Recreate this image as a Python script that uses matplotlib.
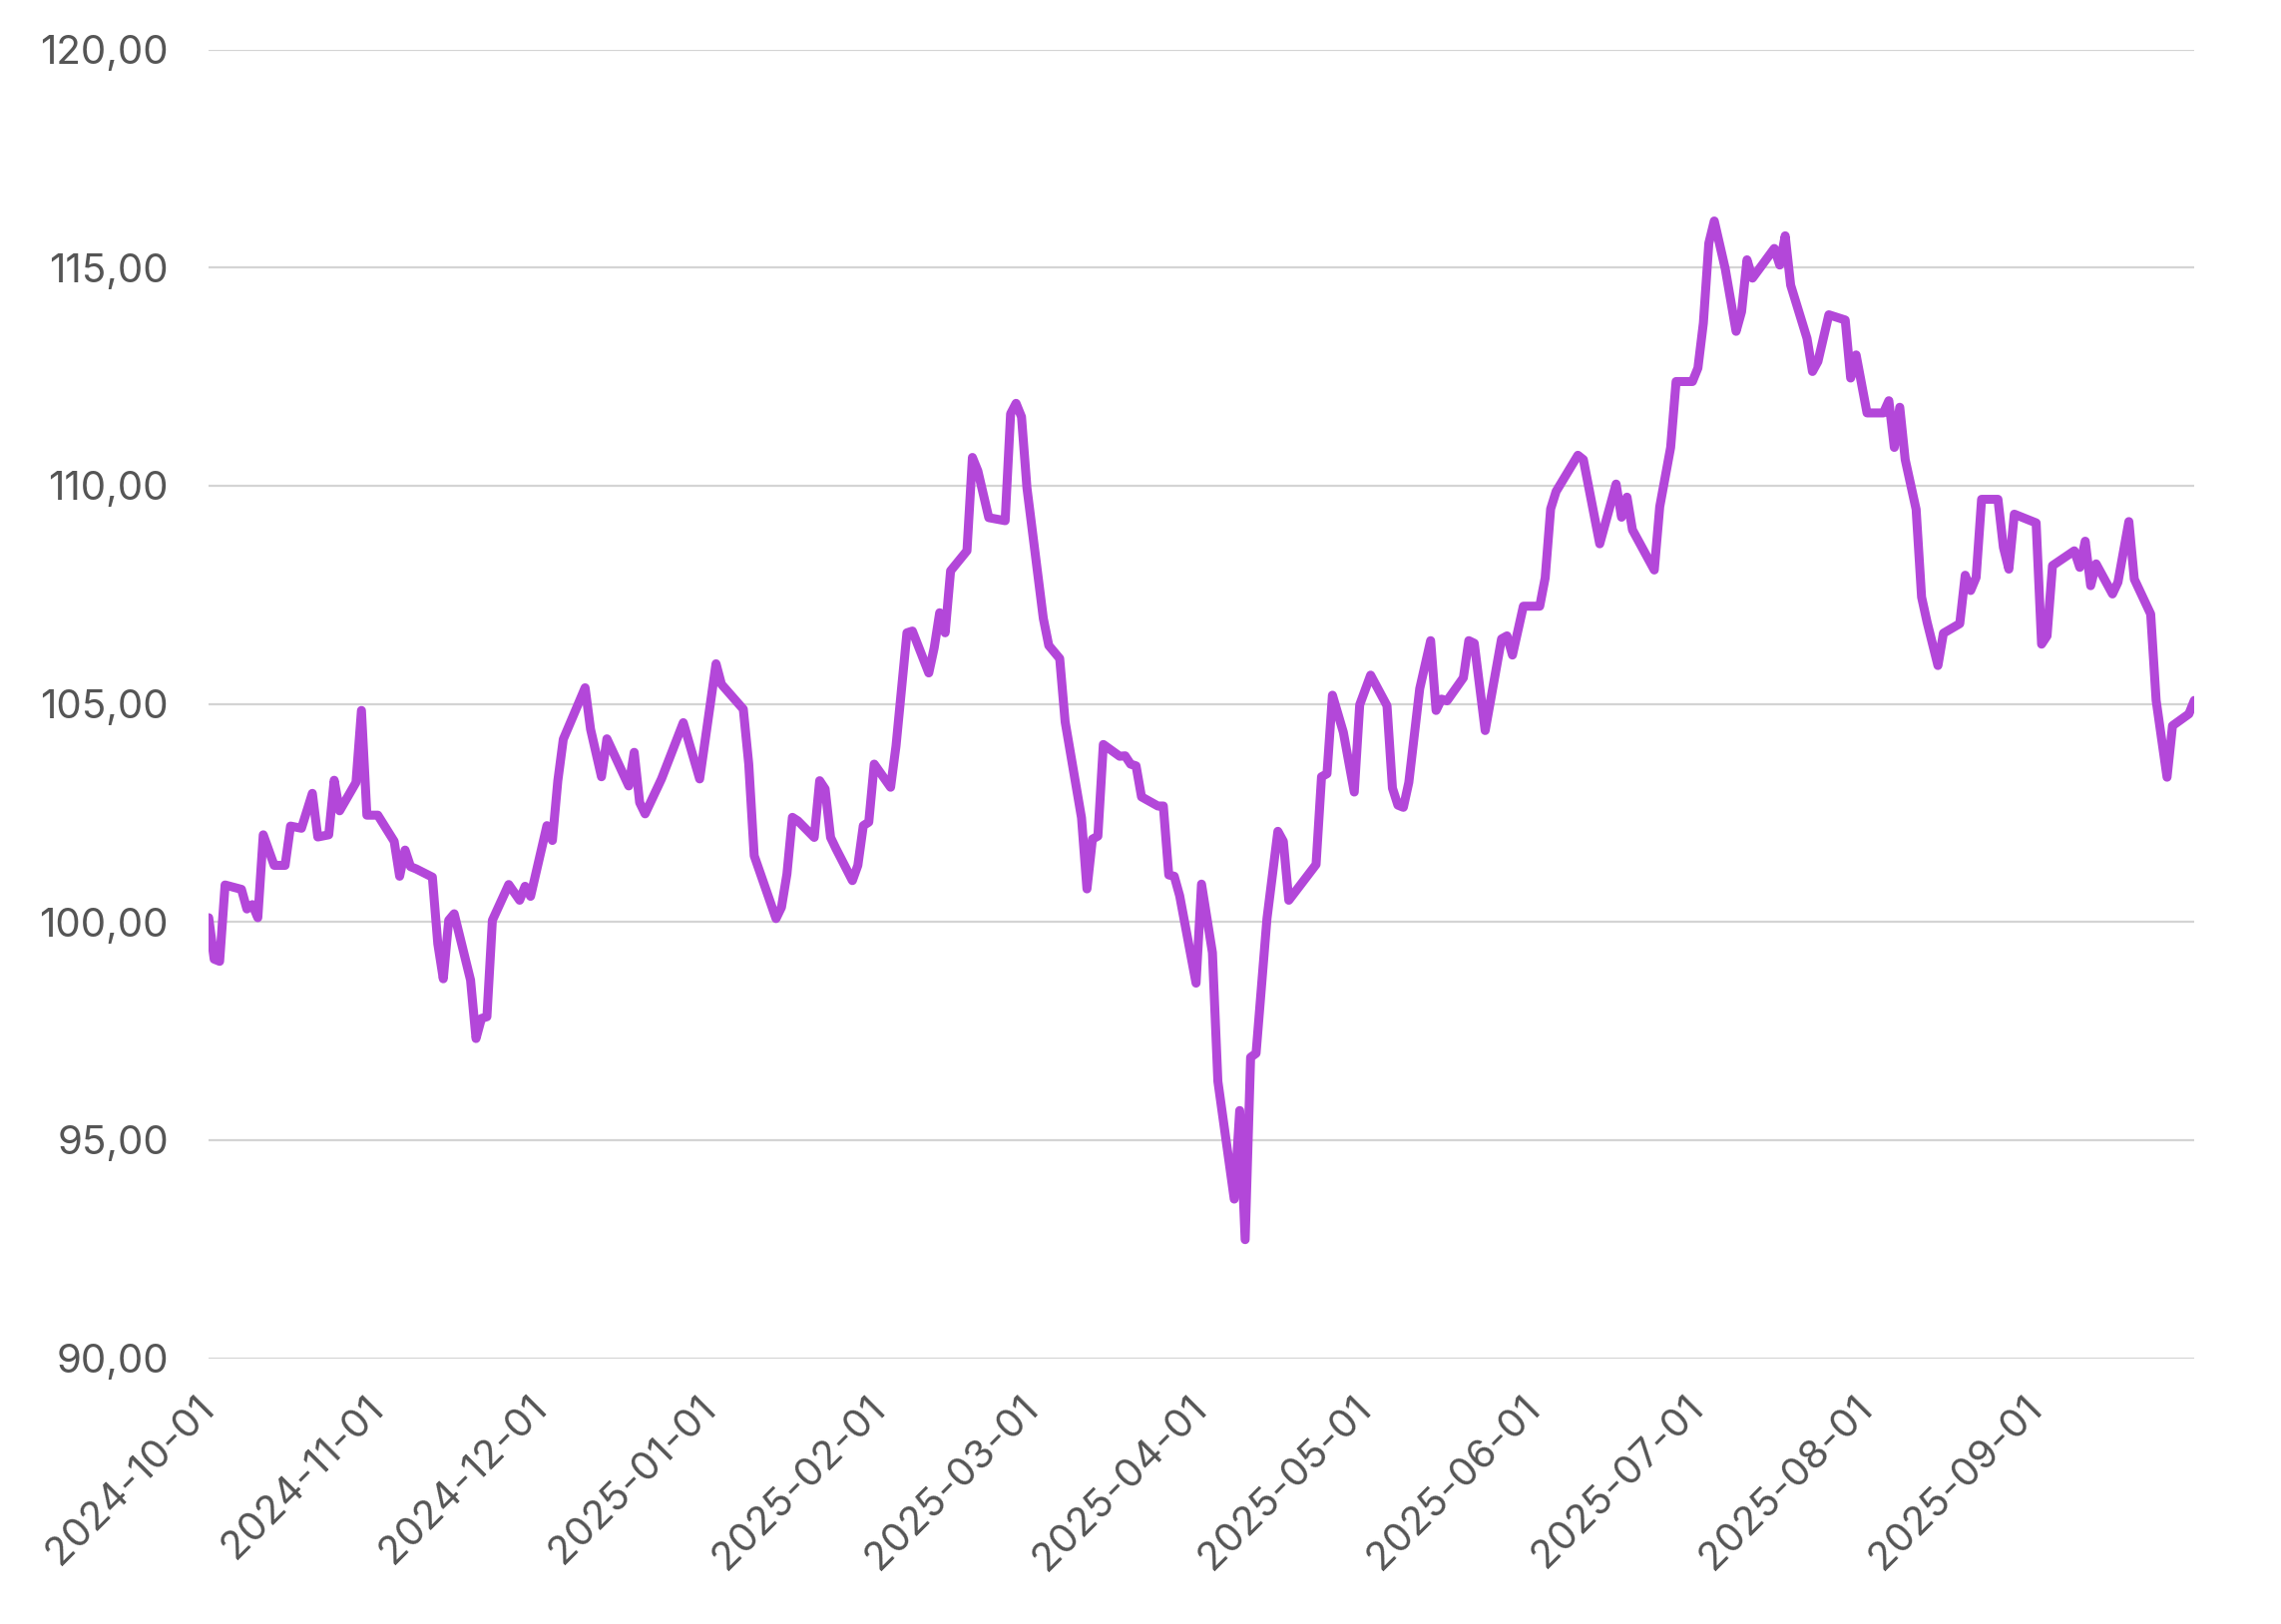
import matplotlib
matplotlib.use("Agg")
import matplotlib.pyplot as plt
import matplotlib.dates as mdates
from matplotlib.ticker import FuncFormatter
import pandas as pd

dates = [
    "2024-10-01", "2024-10-02", "2024-10-03", "2024-10-04", "2024-10-07", "2024-10-08",
    "2024-10-09", "2024-10-10", "2024-10-11", "2024-10-13", "2024-10-15", "2024-10-16",
    "2024-10-18", "2024-10-20", "2024-10-21", "2024-10-23", "2024-10-24", "2024-10-25",
    "2024-10-28", "2024-10-29", "2024-10-30", "2024-11-01", "2024-11-04", "2024-11-05",
    "2024-11-06", "2024-11-07", "2024-11-08", "2024-11-11", "2024-11-12", "2024-11-13",
    "2024-11-14", "2024-11-15", "2024-11-18", "2024-11-19", "2024-11-20", "2024-11-21",
    "2024-11-22", "2024-11-25", "2024-11-27", "2024-11-28", "2024-11-29", "2024-12-02",
    "2024-12-03", "2024-12-04", "2024-12-05", "2024-12-09", "2024-12-10", "2024-12-12",
    "2024-12-13", "2024-12-17", "2024-12-18", "2024-12-19", "2024-12-20", "2024-12-23",
    "2024-12-27", "2024-12-30", "2025-01-02", "2025-01-03", "2025-01-07", "2025-01-08",
    "2025-01-09", "2025-01-13", "2025-01-14", "2025-01-15", "2025-01-16", "2025-01-17",
    "2025-01-20", "2025-01-21", "2025-01-22", "2025-01-23", "2025-01-24", "2025-01-27",
    "2025-01-28", "2025-01-29", "2025-01-30", "2025-01-31", "2025-02-03", "2025-02-04",
    "2025-02-06", "2025-02-07", "2025-02-10", "2025-02-11", "2025-02-12", "2025-02-13",
    "2025-02-14", "2025-02-17", "2025-02-18", "2025-02-19", "2025-02-21", "2025-02-24",
    "2025-02-25", "2025-02-26", "2025-02-27", "2025-02-28", "2025-03-03", "2025-03-04",
    "2025-03-06", "2025-03-07", "2025-03-10", "2025-03-11", "2025-03-12", "2025-03-13",
    "2025-03-14", "2025-03-17", "2025-03-18", "2025-03-19", "2025-03-20", "2025-03-21",
    "2025-03-24", "2025-03-25", "2025-03-26", "2025-03-27", "2025-03-28", "2025-03-31",
    "2025-04-01", "2025-04-03", "2025-04-04", "2025-04-07", "2025-04-08", "2025-04-09",
    "2025-04-10", "2025-04-11", "2025-04-13", "2025-04-15", "2025-04-16", "2025-04-17",
    "2025-04-22", "2025-04-23", "2025-04-24", "2025-04-25", "2025-04-27", "2025-04-29",
    "2025-04-30", "2025-05-02", "2025-05-05", "2025-05-06", "2025-05-07", "2025-05-08",
    "2025-05-09", "2025-05-11", "2025-05-13", "2025-05-14", "2025-05-15", "2025-05-16",
    "2025-05-19", "2025-05-20", "2025-05-21", "2025-05-23", "2025-05-26", "2025-05-27",
    "2025-05-28", "2025-05-30", "2025-06-02", "2025-06-03", "2025-06-04", "2025-06-05",
    "2025-06-09", "2025-06-10", "2025-06-13", "2025-06-16", "2025-06-17", "2025-06-18",
    "2025-06-19", "2025-06-23", "2025-06-24", "2025-06-26", "2025-06-27", "2025-06-30",
    "2025-07-01", "2025-07-02", "2025-07-03", "2025-07-04", "2025-07-06", "2025-07-08",
    "2025-07-09", "2025-07-10", "2025-07-11", "2025-07-15", "2025-07-16", "2025-07-17",
    "2025-07-18", "2025-07-21", "2025-07-22", "2025-07-23", "2025-07-25", "2025-07-28",
    "2025-07-29", "2025-07-30", "2025-08-01", "2025-08-04", "2025-08-05", "2025-08-06",
    "2025-08-07", "2025-08-08", "2025-08-10", "2025-08-11", "2025-08-12", "2025-08-14",
    "2025-08-15", "2025-08-18", "2025-08-19", "2025-08-20", "2025-08-21", "2025-08-22",
    "2025-08-25", "2025-08-26", "2025-08-27", "2025-08-28", "2025-09-01", "2025-09-02",
    "2025-09-03", "2025-09-04", "2025-09-08", "2025-09-09", "2025-09-10", "2025-09-11",
    "2025-09-12", "2025-09-15", "2025-09-16", "2025-09-18", "2025-09-19", "2025-09-22",
    "2025-09-23", "2025-09-25", "2025-09-26", "2025-09-29", "2025-09-30",
]

values = [
    100.10, 99.15, 99.10, 100.85, 100.75, 100.30,
    100.40, 100.10, 102.00, 101.30, 101.30, 102.20,
    102.15, 102.95, 101.95, 102.00, 103.25, 102.55,
    103.20, 104.85, 102.45, 102.45, 101.85, 101.05,
    101.65, 101.27, 101.22, 101.03, 99.50, 98.70,
    100.04, 100.19, 98.67, 97.33, 97.79, 97.83,
    100.04, 100.86, 100.50, 100.82, 100.59, 102.21,
    101.87, 103.24, 104.19, 105.37, 104.42, 103.33,
    104.20, 103.12, 103.89, 102.74, 102.48, 103.28,
    104.57, 103.28, 105.92, 105.45, 104.88, 103.62,
    101.52, 100.08, 100.34, 101.10, 102.40, 102.32,
    101.94, 103.24, 103.05, 101.94, 101.68, 100.95,
    101.30, 102.21, 102.29, 103.62, 103.09, 104.04,
    106.63, 106.67, 105.71, 106.29, 107.09, 106.63,
    108.05, 108.51, 110.65, 110.34, 109.27, 109.20,
    111.65, 111.89, 111.58, 109.95, 106.96, 106.34,
    106.04, 104.59, 102.39, 100.76, 101.90, 101.97,
    104.07, 103.80, 103.81, 103.62, 103.58, 102.87,
    102.66, 102.66, 101.08, 101.05, 100.60, 98.60,
    100.87, 99.30, 96.35, 93.65, 95.68, 92.72,
    96.90, 96.99, 100.08, 102.08, 101.85, 100.50,
    101.32, 103.33, 103.40, 105.20, 104.35, 102.98,
    104.98, 105.66, 104.96, 103.07, 102.68, 102.63,
    103.20, 105.35, 106.45, 104.85, 105.11, 105.07,
    105.60, 106.45, 106.39, 104.39, 106.49, 106.56,
    106.12, 107.24, 107.24, 107.89, 109.47, 109.87,
    110.70, 110.60, 108.67, 110.04, 109.28, 109.74,
    108.99, 108.07, 109.52, 110.88, 112.39, 112.39,
    112.70, 113.73, 115.56, 116.07, 114.98, 113.54,
    113.99, 115.18, 114.76, 115.44, 115.06, 115.73,
    114.60, 113.38, 112.62, 112.85, 113.92, 113.80,
    112.47, 113.00, 111.67, 111.67, 111.95, 110.88,
    111.80, 110.60, 109.46, 107.45, 106.88, 105.88,
    106.62, 106.84, 107.95, 107.60, 107.90, 109.69,
    109.69, 108.59, 108.09, 109.35, 109.15, 106.37,
    106.56, 108.17, 108.51, 108.13, 108.73, 107.71,
    108.21, 107.52, 107.79, 109.18, 107.86, 107.06,
    105.08, 103.32, 104.50, 104.77, 105.08,
]

y_ticks = [90, 95, 100, 105, 110, 115, 120]
x_ticks = ["2024-10-01", "2024-11-01", "2024-12-01", "2025-01-01", "2025-02-01",
           "2025-03-01", "2025-04-01", "2025-05-01", "2025-06-01", "2025-07-01",
           "2025-08-01", "2025-09-01"]

plt.rcParams['font.family'] = ['Inter', 'DejaVu Sans']

x = pd.to_datetime(dates)

fig = plt.figure(figsize=(22.86, 16.28), dpi=100)
ax = fig.add_axes([0.0915, 0.1636, 0.8705, 0.8059])

# main series
ax.plot(x, values, color='#b347d9', linewidth=6.5,
        solid_joinstyle='round', solid_capstyle='round')

ax.set_xlim(x[0], x[-1])
ax.set_ylim(90, 120)
ax.set_yticks(y_ticks)
ax.yaxis.set_major_formatter(FuncFormatter(lambda v, p: f"{v:.2f}".replace('.', ',')))
ax.set_xticks(pd.to_datetime(x_ticks))
ax.xaxis.set_major_formatter(mdates.DateFormatter('%Y-%m-%d'))

ax.grid(axis='y', color='#d4d4d4', linewidth=1.6)
ax.set_axisbelow(True)
for s in ax.spines.values():
    s.set_visible(False)

ax.tick_params(axis='both', length=0, labelsize=29, colors='#555555')
ax.tick_params(axis='y', pad=29)
ax.tick_params(axis='x', pad=32)
for lbl in ax.get_xticklabels():
    lbl.set_rotation(45)
    lbl.set_ha('right')
    lbl.set_va('center')
    lbl.set_rotation_mode('anchor')

plt.savefig('out.png', dpi=100)
